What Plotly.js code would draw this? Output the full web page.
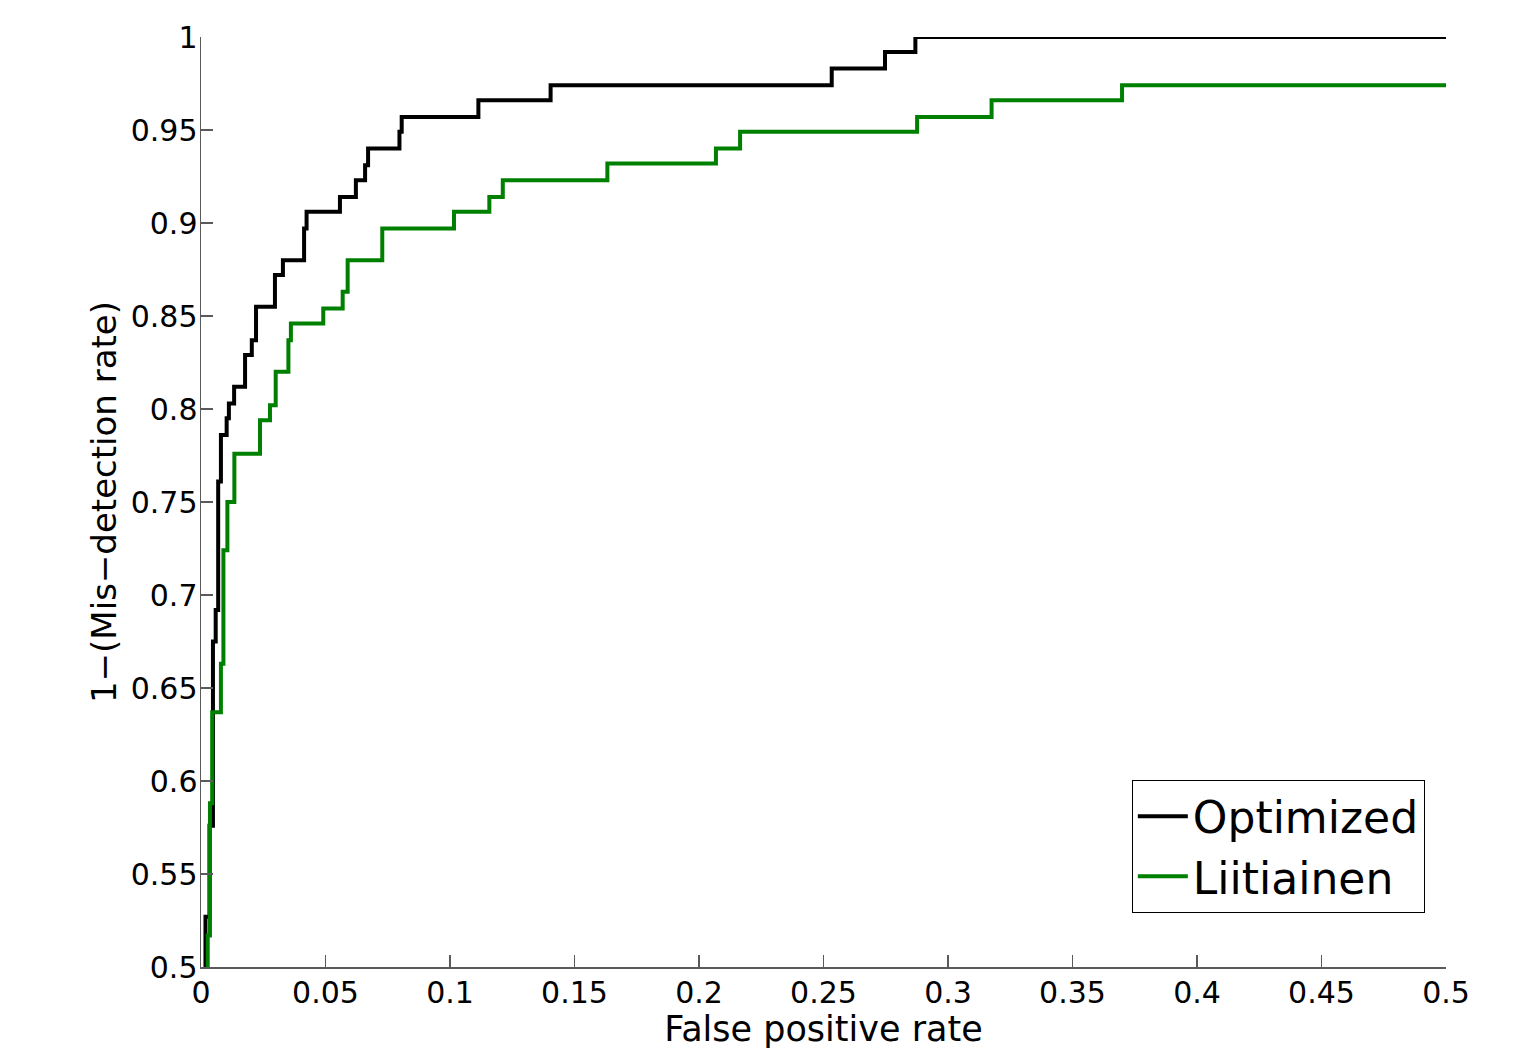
<!DOCTYPE html>
<html>
<head>
<meta charset="utf-8">
<script src="https://cdn.plot.ly/plotly-3.0.1.min.js"></script>
<style>html,body{margin:0;padding:0;background:#fff;}#chart{width:1537px;height:1049px;}</style>
</head>
<body>
<div id="chart"></div>
<script>
// Optimized ROC (step points: at each x the curve rises to y)
const optimizedFPR = [0.0018, 0.0018, 0.0034, 0.0048, 0.0048, 0.0059, 0.0069, 0.0080, 0.0103, 0.0112, 0.0133, 0.0177, 0.0204, 0.0221, 0.0297, 0.0329, 0.0414, 0.0424, 0.0558, 0.0622, 0.0659, 0.0671, 0.0797, 0.0806, 0.1114, 0.1404, 0.2533, 0.2747, 0.2869, 0.5];
const optimizedTPR = [0.45, 0.527, 0.576, 0.641, 0.675, 0.692, 0.761, 0.786, 0.795, 0.803, 0.812, 0.829, 0.837, 0.855, 0.872, 0.880, 0.897, 0.906, 0.914, 0.923, 0.931, 0.940, 0.949, 0.957, 0.966, 0.974, 0.983, 0.992, 1.0, 1.0];

// Liitiainen ROC
const liitiainenFPR = [0.0027, 0.0027, 0.0036, 0.0045, 0.0080, 0.0090, 0.0106, 0.0134, 0.0237, 0.0277, 0.0300, 0.0351, 0.0361, 0.0491, 0.0569, 0.0589, 0.0728, 0.1016, 0.1158, 0.1212, 0.1632, 0.2068, 0.2165, 0.2876, 0.3175, 0.3699, 0.5];
const liitiainenTPR = [0.45, 0.517, 0.588, 0.637, 0.663, 0.724, 0.750, 0.776, 0.794, 0.802, 0.820, 0.837, 0.846, 0.854, 0.863, 0.880, 0.897, 0.906, 0.914, 0.923, 0.932, 0.940, 0.949, 0.957, 0.966, 0.974, 0.974];

const seriesNames = ["Optimized", "Liitiainen"];

const xTickVals = [0, 0.05, 0.1, 0.15, 0.2, 0.25, 0.3, 0.35, 0.4, 0.45, 0.5];
const xTickText = ["0", "0.05", "0.1", "0.15", "0.2", "0.25", "0.3", "0.35", "0.4", "0.45", "0.5"];
const yTickVals = [0.5, 0.55, 0.6, 0.65, 0.7, 0.75, 0.8, 0.85, 0.9, 0.95, 1];
const yTickText = ["0.5", "0.55", "0.6", "0.65", "0.7", "0.75", "0.8", "0.85", "0.9", "0.95", "1"];

const xTitle = "False positive rate";
const yTitle = "1\u2212(Mis\u2212detection rate)";

const FONT = "DejaVu Sans, Verdana, sans-serif";
const AXIS_COLOR = "#5a5a5a";

const traces = [
  {
    x: optimizedFPR, y: optimizedTPR, name: seriesNames[0],
    type: "scatter", mode: "lines",
    line: {color: "#000000", width: 4, shape: "hv"}
  },
  {
    x: liitiainenFPR, y: liitiainenTPR, name: seriesNames[1],
    type: "scatter", mode: "lines",
    line: {color: "#008000", width: 4, shape: "hv"}
  }
];

const layout = {
  width: 1537, height: 1049,
  margin: {l: 201, r: 91, t: 37, b: 82},
  paper_bgcolor: "#ffffff", plot_bgcolor: "#ffffff",
  font: {family: FONT, color: "#000000"},
  showlegend: true,
  xaxis: {
    range: [0, 0.5],
    tickmode: "array", tickvals: xTickVals, ticktext: xTickText,
    ticks: "inside", ticklen: 12, tickwidth: 1.2, tickcolor: AXIS_COLOR,
    showline: true, linecolor: AXIS_COLOR, linewidth: 1.5,
    showgrid: false, zeroline: false, mirror: false,
    tickfont: {family: FONT, size: 30, color: "#000000"},
    ticklabelstandoff: -2,
    title: {text: xTitle, font: {family: FONT, size: 35, color: "#000000"}, standoff: 0}
  },
  yaxis: {
    range: [0.5, 1],
    tickmode: "array", tickvals: yTickVals, ticktext: yTickText,
    ticks: "inside", ticklen: 12, tickwidth: 1.2, tickcolor: AXIS_COLOR,
    showline: true, linecolor: AXIS_COLOR, linewidth: 1.5,
    showgrid: false, zeroline: false, mirror: false,
    tickfont: {family: FONT, size: 30, color: "#000000"},
    ticklabelstandoff: -4,
    title: {text: yTitle, font: {family: FONT, size: 34, color: "#000000"}, standoff: 4}
  },
  legend: {
    x: 0.983, y: 0.058, xanchor: "right", yanchor: "bottom",
    bgcolor: "#ffffff", bordercolor: "#000000", borderwidth: 1,
    font: {family: FONT, size: 44, color: "#000000"},
    itemwidth: 50, tracegroupgap: 0
  }
};

Plotly.newPlot("chart", traces, layout, {displayModeBar: false, staticPlot: true});
</script>
</body>
</html>
